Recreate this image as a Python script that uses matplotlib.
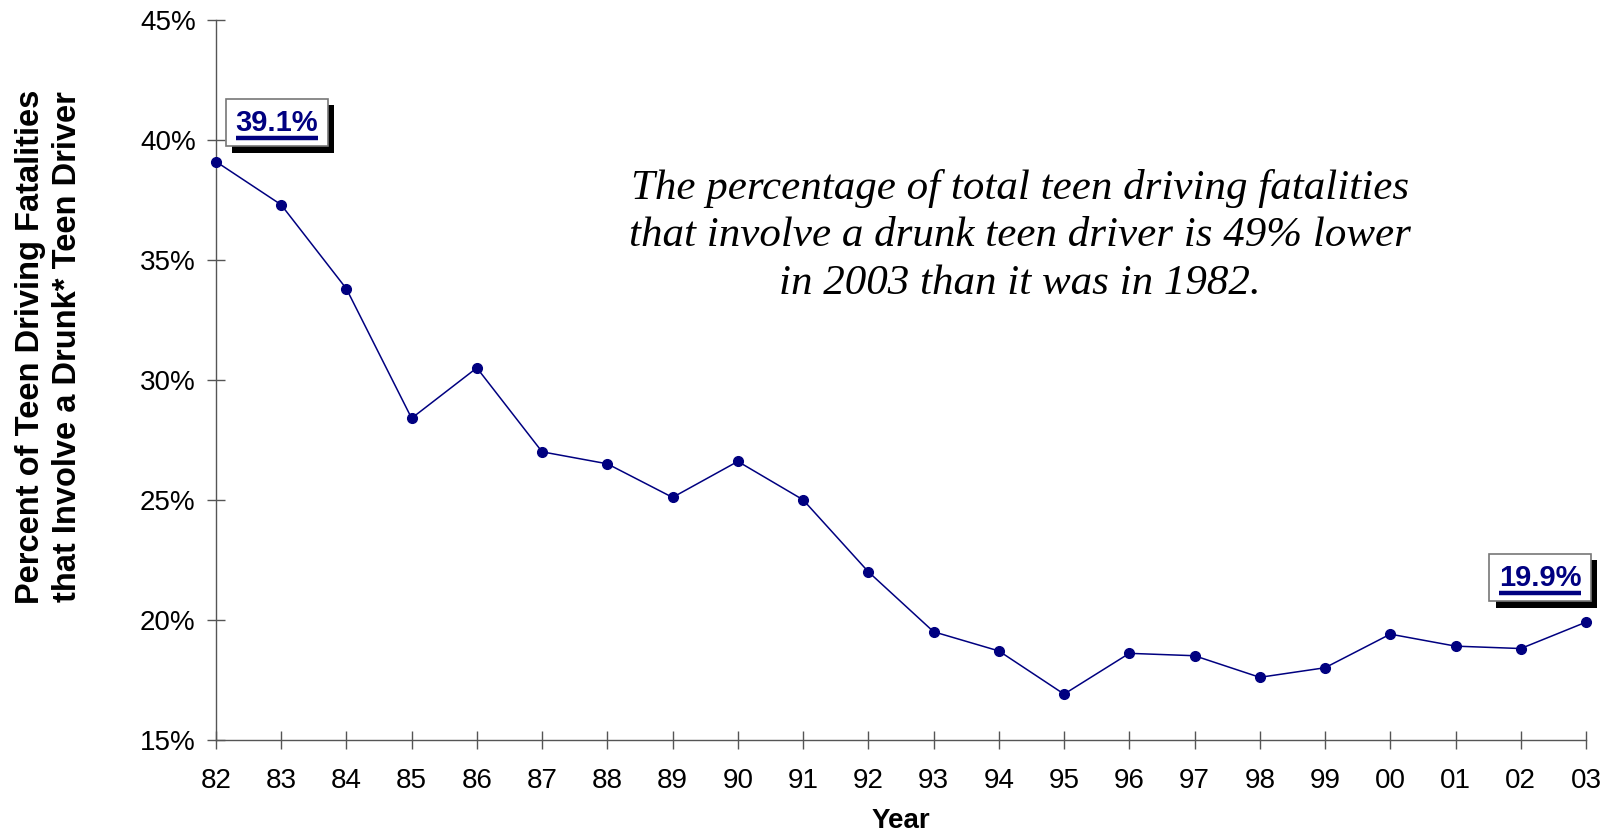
import matplotlib
matplotlib.use('Agg')
import matplotlib.pyplot as plt
import matplotlib.patheffects as pe
from matplotlib.lines import Line2D
from matplotlib.transforms import IdentityTransform

years = ['82', '83', '84', '85', '86', '87', '88', '89', '90', '91', '92',
         '93', '94', '95', '96', '97', '98', '99', '00', '01', '02', '03']
pct = [39.1, 37.3, 33.8, 28.4, 30.5, 27.0, 26.5, 25.1, 26.6, 25.0, 22.0,
       19.5, 18.7, 16.9, 18.6, 18.5, 17.6, 18.0, 19.4, 18.9, 18.8, 19.9]
yticks = [15, 20, 25, 30, 35, 40, 45]
note = ('The percentage of total teen driving fatalities\n'
        'that involve a drunk teen driver is 49% lower\n'
        'in 2003 than it was in 1982.')

navy = '#000080'
axc = '#555555'
plt.rcParams['font.family'] = ['Liberation Sans', 'DejaVu Sans']

fig = plt.figure(figsize=(16.11, 8.33), dpi=100)
ax = fig.add_axes([0.134, 0.112, 0.8505, 0.864])
x = list(range(len(years)))
ax.plot(x, pct, color=navy, lw=1.1, marker='o', ms=7, clip_on=False, zorder=3)

ax.set_xlim(0, len(years) - 1)
ax.set_ylim(15, 45)
ax.set_xticks(x)
ax.set_xticklabels(years)
ax.set_yticks(yticks)
ax.set_yticklabels([f'{v}%' for v in yticks])
for s in ['top', 'right']:
    ax.spines[s].set_visible(False)
for s in ['left', 'bottom']:
    ax.spines[s].set_color(axc)
    ax.spines[s].set_linewidth(1.0)
ax.tick_params(axis='both', direction='inout', length=13, width=1.0, color=axc,
               labelsize=20)
ax.tick_params(axis='y', pad=8)
ax.tick_params(axis='x', pad=14)
ax.set_xlabel('Year', fontsize=20, fontweight='bold', labelpad=10)

fig.text(0.0304, 0.584, 'Percent of Teen Driving Fatalities\nthat Involve a Drunk* Teen Driver',
         rotation=90, ha='center', va='center', multialignment='center',
         fontsize=23.5, fontweight='bold', linespacing=1.25)

fig.text(0.633, 0.717, note, ha='center', va='center', fontsize=31,
         family=['Liberation Serif', 'DejaVu Serif'], style='italic',
         linespacing=1.3)

# end-point callouts
labels = []
for i, off in [(0, (44, 28)), (len(pct) - 1, (-33, 32))]:
    t = ax.annotate(f'{pct[i]:.1f}%', (x[i], pct[i]), xytext=off,
                    textcoords='offset points', ha='center', va='center',
                    fontsize=21, fontweight='bold', color=navy,
                    annotation_clip=False,
                    bbox=dict(boxstyle='square,pad=0.33', fc='white', ec='#777777', lw=1.2))
    t.get_bbox_patch().set_path_effects([
        pe.SimplePatchShadow(offset=(4.5, -4.5), shadow_rgbFace='black', alpha=1.0),
        pe.Normal()])
    labels.append(t)

fig.canvas.draw()
for t in labels:
    bb = t.get_window_extent()
    y0 = bb.y0 - 1
    fig.add_artist(Line2D([bb.x0, bb.x1], [y0, y0], transform=IdentityTransform(),
                          color=navy, lw=3.2, solid_capstyle='butt'))

fig.savefig('out.png', dpi=100)
